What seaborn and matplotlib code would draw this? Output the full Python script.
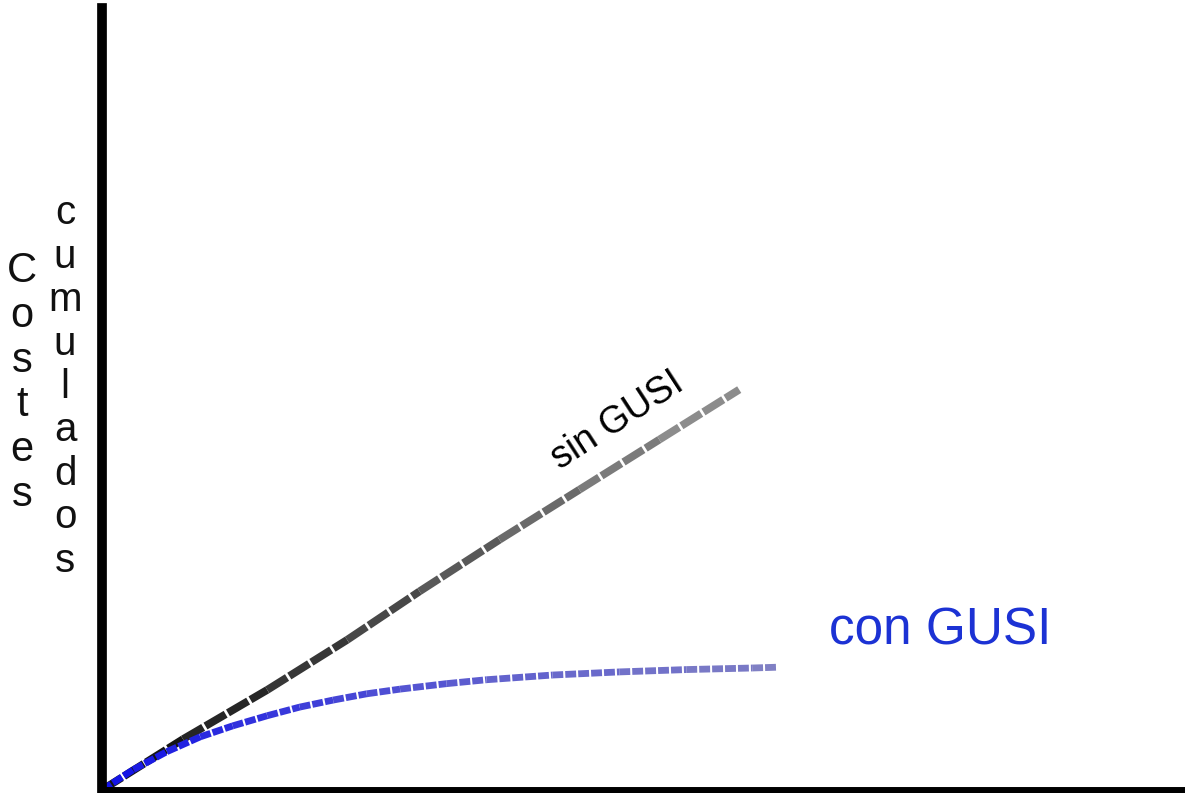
import numpy as np
import matplotlib
matplotlib.use("Agg")
import matplotlib.pyplot as plt
import matplotlib.font_manager as fm
import seaborn as sns
from matplotlib.colors import to_rgb

# values (x = time, y = cumulative cost, both 0-100)
sin_x = [0, 7.5, 15.3, 22.7, 29.4, 36.8, 44.2, 51.6, 59.0]
sin_y = [0, 6.5, 12.8, 19.2, 25.4, 32.0, 38.4, 44.8, 51.2]

con_x = [0, 2.9, 6.0, 9.1, 12.1, 15.3, 18.3, 21.4, 24.5, 27.6, 31.9,
         35.6, 41.7, 47.9, 54.1, 60.2, 62.5]
con_y = [0, 2.6, 4.9, 6.8, 8.2, 9.5, 10.6, 11.5, 12.3, 12.9, 13.6,
         14.1, 14.7, 15.1, 15.4, 15.6, 15.7]

sns.set_style("white")

# the labels use a narrow Arial-like face; take one if there is one
names = {f.name for f in fm.fontManager.ttflist}
narrow = "Liberation Sans Narrow" in names
if narrow:
    plt.rcParams["font.family"] = ["Liberation Sans Narrow", "DejaVu Sans"]
    shrink = 1.0
else:
    plt.rcParams["font.family"] = ["Liberation Sans", "DejaVu Sans"]
    shrink = 0.9

fig = plt.figure(figsize=(11.85, 7.93), dpi=100)
W, H = 1185, 793
ax = fig.add_axes([102 / W, (H - 790) / H, (1182 - 102) / W, (790 - 8) / H])
ax.set_xlim(0, 100)
ax.set_ylim(0, 100)
ax.set_xticks([])
ax.set_yticks([])
for s in ["top", "right"]:
    ax.spines[s].set_visible(False)
for s in ["left", "bottom"]:
    ax.spines[s].set_color("black")
    ax.spines[s].set_linewidth(7)
ax.spines["bottom"].set_linewidth(5)


def fade(c0, c1, n):
    a, b = np.array(to_rgb(c0)), np.array(to_rgb(c1))
    return [tuple(a + (b - a) * t) for t in np.linspace(0, 1, n)]


# sin GUSI: long dashes, black fading to grey
cols = fade("#151515", "#8c8c8c", len(sin_x) - 1)
for i in range(len(sin_x) - 1):
    sns.lineplot(x=sin_x[i:i + 2], y=sin_y[i:i + 2], color=cols[i], linewidth=5.6,
                 sort=False, ax=ax, clip_on=False)
    ln = ax.lines[-1]
    ln.set_linestyle((0, (3.0, 0.35)))
    ln.set_dash_capstyle("butt")

# con GUSI: short dashes, blue fading to lavender
cols = fade("#1414e6", "#8080c4", len(con_x) - 1)
for i in range(len(con_x) - 1):
    sns.lineplot(x=con_x[i:i + 2], y=con_y[i:i + 2], color=cols[i], linewidth=4.9,
                 sort=False, ax=ax, clip_on=False)
    ln = ax.lines[-1]
    ln.set_linestyle((0, (1.6, 0.3)))
    ln.set_dash_capstyle("butt")

fig.text(617 / W, 1 - 421 / H, "sin GUSI", fontsize=30 * shrink, color="black",
         rotation=33, ha="center", va="center", rotation_mode="anchor")
fig.text(940 / W, 1 - 631 / H, "con GUSI", fontsize=41 * shrink, color="#1c32d4",
         ha="center", va="center")

fig.text(22 / W, 1 - 383 / H, "\n".join("Costes"), fontsize=30, color="#111111",
         ha="center", va="center", linespacing=1.16)
fig.text(65 / W, 1 - 387 / H, "\n".join("cumulados"), fontsize=29, color="#111111",
         ha="center", va="center", linespacing=1.18)

fig.savefig("out.png", dpi=100)
